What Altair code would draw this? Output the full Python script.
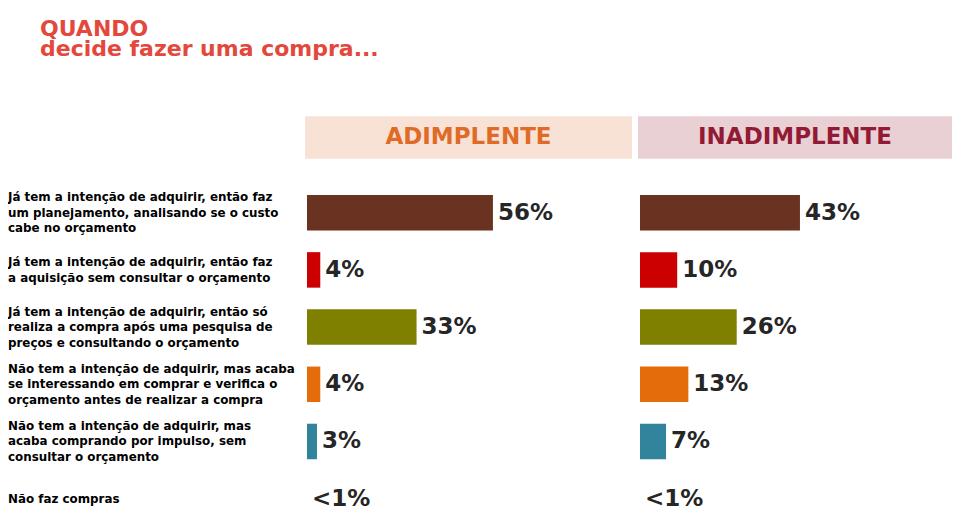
import altair as alt
import pandas as pd

# ---- data ----
categorias = [
    "Já tem a intenção de adquirir, então faz\num planejamento, analisando se o custo\ncabe no orçamento",
    "Já tem a intenção de adquirir, então faz\na aquisição sem consultar o orçamento",
    "Já tem a intenção de adquirir, então só\nrealiza a compra após uma pesquisa de\npreços e consultando o orçamento",
    "Não tem a intenção de adquirir, mas acaba\nse interessando em comprar e verifica o\norçamento antes de realizar a compra",
    "Não tem a intenção de adquirir, mas\nacaba comprando por impulso, sem\nconsultar o orçamento",
    "Não faz compras",
]
adimplente = [56, 4, 33, 4, 3, None]
inadimplente = [43, 10, 26, 13, 7, None]
rotulos_adimplente = ["56%", "4%", "33%", "4%", "3%", "<1%"]
rotulos_inadimplente = ["43%", "10%", "26%", "13%", "7%", "<1%"]
grupos = ["ADIMPLENTE", "INADIMPLENTE"]
cores = ["#6A3321", "#CC0000", "#808000", "#E46C0A", "#31849B", "#FFFFFF"]

FONT = "DejaVu Sans"
TITLE_COLOR = "#E4473B"
VALUE_COLOR = "#262626"

df = pd.DataFrame({
    "ordem": list(range(len(categorias))),
    "cat": categorias,
    "adim": adimplente,
    "inad": inadimplente,
    "lab_adim": rotulos_adimplente,
    "lab_inad": rotulos_inadimplente,
})

# one row per text line of each category label
linhas = []
for i, c in enumerate(categorias):
    partes = c.split("\n")
    for j, p in enumerate(partes):
        linhas.append({"ordem": i, "linha": j, "n": len(partes), "txt": p})
df_linhas = pd.DataFrame(linhas)

PLOT_H = 297.4
PAD = 0.1
N = len(categorias)
STEP = PLOT_H / (N - 1 + 2 * PAD)
LINE_H = 15.5

Y = alt.Y("ordem:O", scale=alt.Scale(type="point", padding=PAD), axis=None)

labels = alt.Chart(df_linhas).transform_calculate(
    pos=f"datum.ordem + (datum.linha - (datum.n - 1) / 2) * {LINE_H / STEP}"
).mark_text(
    align="left", baseline="middle", font=FONT, fontWeight="bold",
    fontSize=11.9, color="#000000"
).encode(
    x=alt.value(0),
    y=alt.Y("pos:Q", scale=alt.Scale(domain=[-PAD, N - 1 + PAD], reverse=True, nice=False, zero=False), axis=None),
    text="txt:N"
).properties(width=297, height=PLOT_H)


def panel(field, labfield, dom, width, box_w, title, bg, fg):
    head = pd.DataFrame({"t": [title]})
    header_bg = alt.Chart(head).mark_rect(color=bg).encode(
        x=alt.value(-2), x2=alt.value(box_w),
        y=alt.value(-90.8), y2=alt.value(-48.3)
    )
    header_txt = alt.Chart(head).mark_text(
        font=FONT, fontWeight="bold", fontSize=23, color=fg,
        align="center", baseline="middle"
    ).encode(
        x=alt.value((box_w - 2) / 2), y=alt.value(-69.5), text="t:N"
    )
    xs = alt.X(field + ":Q", scale=alt.Scale(domain=[0, dom]), axis=None)
    bars = alt.Chart(df).mark_bar(size=35.5).encode(
        x=xs, y=Y,
        color=alt.Color("ordem:O", scale=alt.Scale(range=cores), legend=None)
    ).transform_filter(f"isValid(datum.{field})")
    vals = alt.Chart(df).transform_calculate(
        pos=f"isValid(datum.{field}) ? datum.{field} : 0"
    ).mark_text(
        align="left", baseline="middle", dx=5, font=FONT, fontWeight="bold",
        fontSize=23, color=VALUE_COLOR
    ).encode(
        x=alt.X("pos:Q", scale=alt.Scale(domain=[0, dom]), axis=None),
        y=Y, text=labfield + ":N"
    )
    return alt.layer(header_bg, header_txt, bars, vals).properties(
        width=width, height=PLOT_H
    )


left = panel("adim", "lab_adim", 331 / 3.32, 331, 325, grupos[0], "#F8E2D5", "#DF6B27")
right = panel("inad", "lab_inad", 308 / 3.72, 308, 312, grupos[1], "#E9D0D5", "#921A35")

chart = alt.hconcat(labels, left, right, spacing=0).properties(
    title=alt.TitleParams(
        text=["QUANDO", "decide fazer uma compra..."],
        anchor="start", font=FONT, fontSize=22, fontWeight="bold",
        color=TITLE_COLOR, lineHeight=20.5, dx=32, offset=55
    ),
    padding={"left": 0, "top": 9, "right": 0, "bottom": 0}
).configure(background="white").configure_view(stroke=None, strokeWidth=0)

chart.save("out.html", embed_options={"renderer": "svg", "actions": False})
